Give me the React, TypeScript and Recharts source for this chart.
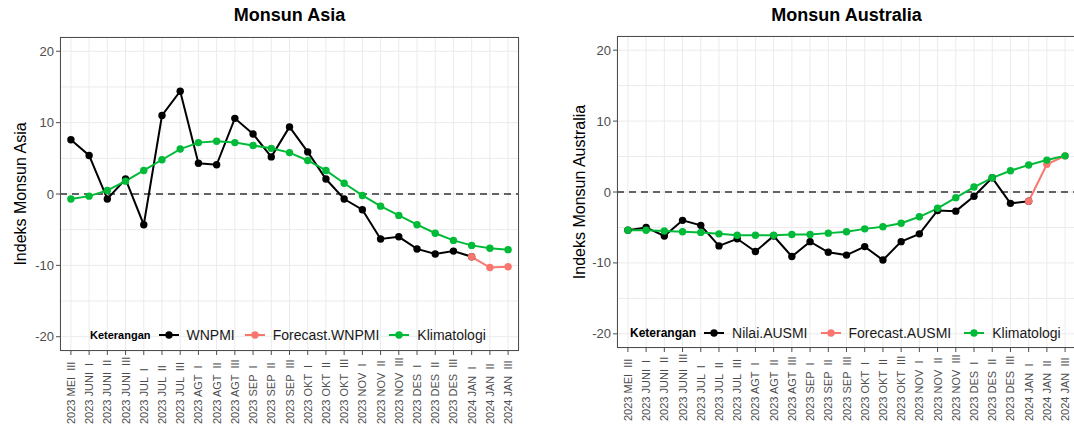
import React from 'react';
import { LineChart, Line, XAxis, YAxis, CartesianGrid, ReferenceLine, Legend } from 'recharts';

const categories = [
  '2023 MEI  III', '2023 JUNI  I', '2023 JUNI  II', '2023 JUNI  III', '2023 JUL  I',
  '2023 JUL  II', '2023 JUL  III', '2023 AGT  I', '2023 AGT  II', '2023 AGT  III',
  '2023 SEP  I', '2023 SEP  II', '2023 SEP  III', '2023 OKT  I', '2023 OKT  II',
  '2023 OKT  III', '2023 NOV  I', '2023 NOV  II', '2023 NOV  III', '2023 DES  I',
  '2023 DES  II', '2023 DES  III', '2024 JAN  I', '2024 JAN  II', '2024 JAN  III',
];

const yTicks = [-20, -15, -10, -5, 0, 5, 10, 15, 20];

const asiaObserved = [7.6, 5.4, -0.7, 2.1, -4.3, 11.0, 14.4, 4.3, 4.1, 10.6, 8.4, 5.2, 9.4, 5.9, 2.1, -0.7, -2.2, -6.3, -6.0, -7.7, -8.4, -8.0, -8.8, null, null];
const asiaForecast = [null, null, null, null, null, null, null, null, null, null, null, null, null, null, null, null, null, null, null, null, null, null, -8.8, -10.3, -10.2];
const asiaClimatology = [-0.7, -0.3, 0.5, 1.8, 3.3, 4.8, 6.3, 7.2, 7.4, 7.2, 6.8, 6.4, 5.8, 4.7, 3.3, 1.5, -0.2, -1.7, -3.0, -4.3, -5.5, -6.5, -7.2, -7.6, -7.8];

const ausObserved = [-5.4, -5.0, -6.2, -4.0, -4.7, -7.6, -6.6, -8.4, -6.2, -9.1, -7.0, -8.5, -8.9, -7.7, -9.6, -7.0, -5.9, -2.6, -2.7, -0.6, 2.0, -1.6, -1.3, null, null];
const ausForecast = [null, null, null, null, null, null, null, null, null, null, null, null, null, null, null, null, null, null, null, null, null, null, -1.3, 3.9, 5.1];
const ausClimatology = [-5.4, -5.4, -5.5, -5.6, -5.7, -5.9, -6.1, -6.1, -6.1, -6.0, -6.0, -5.8, -5.6, -5.2, -4.9, -4.4, -3.5, -2.3, -0.8, 0.7, 2.0, 3.0, 3.8, 4.5, 5.1];

const BLACK = '#000000';
const PINK = '#F8766D';
const GREEN = '#00BA38';
const seriesColors = [BLACK, PINK, GREEN];
const BORDER = '#4d4d4d';

function buildRows(obs: (number | null)[], fc: (number | null)[], clim: (number | null)[]) {
  return categories.map((c, i) => ({ cat: c, obs: obs[i], fc: fc[i], clim: clim[i] }));
}

const YTick = (props: any) => {
  const { x, y, payload } = props;
  if (payload.value % 10 !== 0) return <g />;
  return (
    <g>
      <line x1={x - 4} x2={x} y1={y} y2={y} stroke={BORDER} strokeWidth={1} />
      <text x={x - 6} y={y} textAnchor="end" dominantBaseline="central" fontSize={13} fill="#4D4D4D">
        {payload.value}
      </text>
    </g>
  );
};

const XTick = (props: any) => {
  const { x, y, payload } = props;
  return (
    <g>
      <line x1={x} x2={x} y1={y} y2={y + 4} stroke={BORDER} strokeWidth={1} />
      <text
        transform={`translate(${x},${y + 73}) rotate(-90)`}
        textAnchor="start"
        dominantBaseline="central"
        fontSize={11}
        fill="#4D4D4D"
        style={{ whiteSpace: 'pre' }}
      >
        {payload.value}
      </text>
    </g>
  );
};

type PanelProps = {
  title: string;
  yTitle: string;
  names: string[];
  rows: any[];
  pageLeft: number;
  plotLeft: number;
  plotTop: number;
  plotBottom: number;
  rightMargin: number;
  yTitleX: number;
  legendTop: number;
  keteranganSize: number;
  itemGap: number;
};

const Panel = (p: PanelProps) => {
  const H = 428;
  const W = 540;
  const pad = { left: 10.9, right: 10.9 };
  const plotWidth = W - p.plotLeft - p.rightMargin;
  const legendContent = () => (
    <div style={{ display: 'flex', alignItems: 'center', height: 20, whiteSpace: 'nowrap' }}>
      <span style={{ fontWeight: 'bold', fontSize: p.keteranganSize, color: '#000', marginRight: 8 }}>Keterangan</span>
      {p.names.map((n, i) => (
        <span key={n} style={{ display: 'flex', alignItems: 'center', marginRight: p.itemGap }}>
          <svg width={20} height={10}>
            <line x1={0} x2={20} y1={5} y2={5} stroke={seriesColors[i]} strokeWidth={2} />
            <circle cx={10} cy={5} r={3.7} fill={seriesColors[i]} />
          </svg>
          <span style={{ marginLeft: 8, fontSize: 14, color: '#1a1a1a' }}>{n}</span>
        </span>
      ))}
    </div>
  );
  return (
    <div style={{ position: 'absolute', left: p.pageLeft, top: 0, width: W, height: H }}>
      <div
        style={{
          position: 'absolute',
          left: p.plotLeft,
          width: plotWidth,
          top: 2,
          textAlign: 'center',
          fontSize: 18,
          fontWeight: 'bold',
          color: '#000',
          lineHeight: '26px',
        }}
      >
        {p.title}
      </div>
      <LineChart
        width={W}
        height={H}
        data={p.rows}
        margin={{ top: p.plotTop, right: p.rightMargin, bottom: 0, left: 0 }}
      >
        <CartesianGrid stroke="#EBEBEB" strokeWidth={1} />
        <XAxis
          dataKey="cat"
          interval={0}
          height={H - p.plotBottom}
          padding={pad}
          tickSize={0}
          tickMargin={0}
          tickLine={false}
          axisLine={false}
          tick={<XTick />}
        />
        <YAxis
          type="number"
          domain={[-22, 22]}
          ticks={yTicks}
          interval={0}
          allowDataOverflow
          width={p.plotLeft}
          tickSize={0}
          tickMargin={0}
          tickLine={false}
          axisLine={false}
          tick={<YTick />}
          label={(lp: any) => {
            const vb = lp.viewBox || {};
            return (
              <text
                transform={`translate(${p.yTitleX},${vb.y + vb.height / 2}) rotate(-90)`}
                textAnchor="middle"
                dominantBaseline="central"
                fontSize={16}
                fill="#000"
              >
                {p.yTitle}
              </text>
            );
          }}
        />
        <ReferenceLine y={0} stroke="#333" strokeWidth={1.5} strokeDasharray="7 5" />
        <Line
          dataKey="obs"
          name={p.names[0]}
          stroke={BLACK}
          strokeWidth={2}
          dot={{ r: 3.7, fill: BLACK, stroke: BLACK, strokeWidth: 0 }}
          activeDot={false}
          isAnimationActive={false}
        />
        <Line
          dataKey="fc"
          name={p.names[1]}
          stroke={PINK}
          strokeWidth={2}
          dot={{ r: 3.7, fill: PINK, stroke: PINK, strokeWidth: 0 }}
          activeDot={false}
          isAnimationActive={false}
        />
        <Line
          dataKey="clim"
          name={p.names[2]}
          stroke={GREEN}
          strokeWidth={2}
          dot={{ r: 3.7, fill: GREEN, stroke: GREEN, strokeWidth: 0 }}
          activeDot={false}
          isAnimationActive={false}
        />
        <Legend
          layout="horizontal"
          verticalAlign="middle"
          align="center"
          wrapperStyle={{ position: 'absolute', left: 90, top: p.legendTop, width: 'auto', height: 20 }}
          content={legendContent}
        />
      </LineChart>
      <div
        style={{
          position: 'absolute',
          left: p.plotLeft,
          top: p.plotTop,
          width: plotWidth,
          height: p.plotBottom - p.plotTop,
          boxSizing: 'border-box',
          border: `1px solid ${BORDER}`,
          pointerEvents: 'none',
        }}
      />
    </div>
  );
};

export default function App() {
  return (
    <div
      style={{
        position: 'absolute',
        left: 0,
        top: 0,
        width: 1074,
        height: 428,
        overflow: 'hidden',
        background: '#fff',
        fontFamily: '"Liberation Sans", Arial, sans-serif',
      }}
    >
      <Panel
        title="Monsun Asia"
        yTitle="Indeks Monsun Asia"
        names={['WNPMI', 'Forecast.WNPMI', 'Klimatologi']}
        rows={buildRows(asiaObserved, asiaForecast, asiaClimatology)}
        pageLeft={0}
        plotLeft={60}
        plotTop={37}
        plotBottom={351}
        rightMargin={21}
        yTitleX={20}
        legendTop={325}
        keteranganSize={11}
        itemGap={10}
      />
      <Panel
        title="Monsun Australia"
        yTitle="Indeks Monsun Australia"
        names={['Nilai.AUSMI', 'Forecast.AUSMI', 'Klimatologi']}
        rows={buildRows(ausObserved, ausForecast, ausClimatology)}
        pageLeft={540}
        plotLeft={77}
        plotTop={36}
        plotBottom={348}
        rightMargin={4}
        yTitleX={39}
        legendTop={323}
        keteranganSize={12}
        itemGap={13}
      />
    </div>
  );
}
